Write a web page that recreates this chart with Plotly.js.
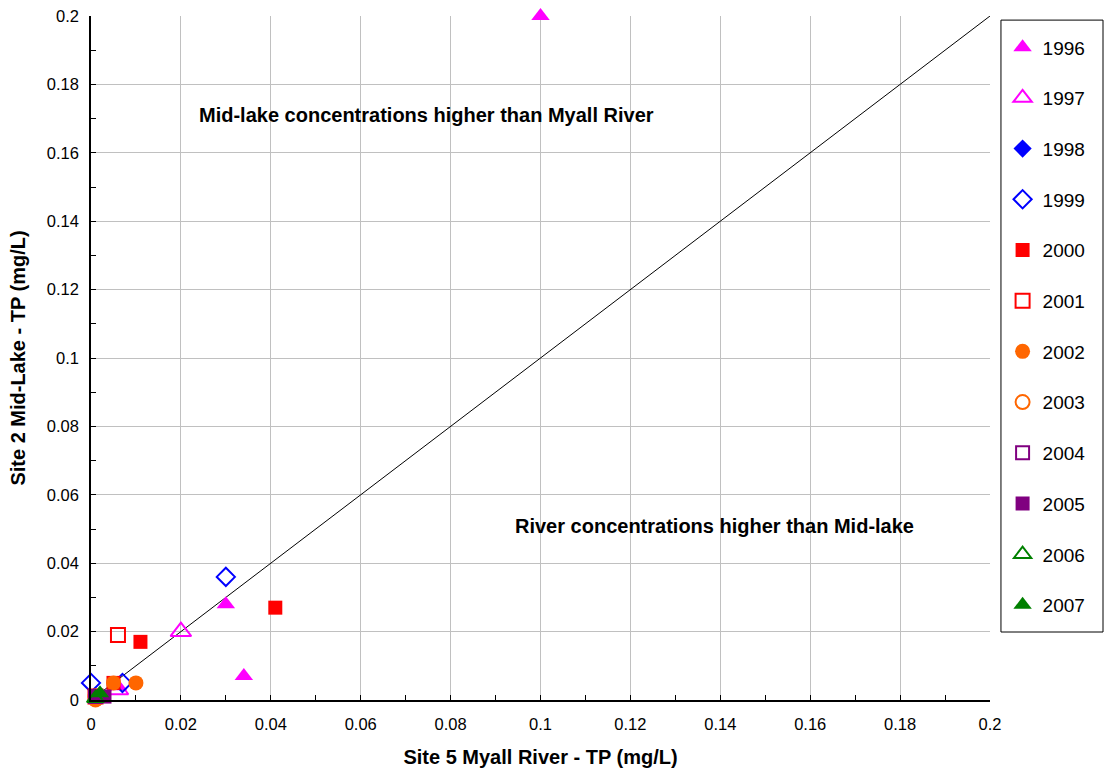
<!DOCTYPE html>
<html><head><meta charset="utf-8">
<script src="https://cdn.plot.ly/plotly-3.0.1.min.js"></script>
<style>body{margin:0;background:#fff}#c{width:1104px;height:771px}</style>
</head><body><div id="c"></div>
<script>
const years = ["1996","1997","1998","1999","2000","2001","2002","2003","2004","2005","2006","2007"];
const x1996 = [0.100, 0.030, 0.034, 0.006];
const y1996 = [0.200, 0.028, 0.007, 0.004];
const x1997 = [0.020, 0.006];
const y1997 = [0.020, 0.003];
const x1998 = [0.002];
const y1998 = [0.001];
const x1999 = [0.030, 0.000, 0.007];
const y1999 = [0.036, 0.005, 0.005];
const x2000 = [0.041, 0.011, 0.005, 0.001];
const y2000 = [0.027, 0.017, 0.005, 0.001];
const x2001 = [0.006, 0.001];
const y2001 = [0.019, 0.001];
const x2002 = [0.005, 0.010, 0.001];
const y2002 = [0.005, 0.005, 0.000];
const x2003 = [0.001];
const y2003 = [0.001];
const x2004 = [0.001];
const y2004 = [0.001];
const x2005 = [0.001, 0.003];
const y2005 = [0.001, 0.001];
const x2006 = [0.001];
const y2006 = [0.0005];
const x2007 = [0.002];
const y2007 = [0.002];
const lineX = [0, 0.2];
const lineY = [0, 0.2];

const MAG='#ff00ff', BLUE='#0000ff', RED='#ff0000', ORG='#ff6600', PUR='#800080', GRN='#008000';
const specs = [
  [x1996,y1996,'triangle-up',MAG,true,16],
  [x1997,y1997,'triangle-up-open',MAG,false,18],
  [x1998,y1998,'diamond',BLUE,true,14],
  [x1999,y1999,'diamond-open',BLUE,false,14],
  [x2000,y2000,'square',RED,true,14],
  [x2001,y2001,'square-open',RED,false,14],
  [x2002,y2002,'circle',ORG,true,15],
  [x2003,y2003,'circle-open',ORG,false,14],
  [x2004,y2004,'square-open',PUR,false,13],
  [x2005,y2005,'square',PUR,true,14],
  [x2006,y2006,'triangle-up-open',GRN,false,15],
  [x2007,y2007,'triangle-up',GRN,true,16]
];
const traces = [{x:lineX,y:lineY,mode:'lines',line:{color:'#000',width:1},showlegend:false,hoverinfo:'skip'}];
specs.forEach((s,i)=>{
  traces.push({x:s[0],y:s[1],mode:'markers',name:years[i],legendgroup:years[i],cliponaxis:false,
    marker:{symbol:s[2],color:s[3],size:s[5],line:{color:s[3],width:s[4]?0:2}}});
});
const layout = {
  width:1104,height:771,
  margin:{l:91,r:114,t:16,b:71},
  paper_bgcolor:'#fff',plot_bgcolor:'#fff',
  font:{family:'Liberation Sans, Arial, sans-serif',color:'#000',size:16},
  xaxis:{range:[0,0.2],dtick:0.02,showgrid:true,gridcolor:'#c0c0c0',gridwidth:1,
    zeroline:false,showline:true,linecolor:'#000',linewidth:1.5,ticks:'inside',ticklen:5,tickcolor:'#000',
    minor:{dtick:0.01,ticks:'inside',ticklen:5,tickcolor:'#000',showgrid:false},
    tickfont:{size:16.5},ticklabelstandoff:8,
    title:{text:'<b>Site 5 Myall River - TP (mg/L)</b>',font:{size:20},standoff:18}},
  yaxis:{range:[0,0.2],dtick:0.02,showgrid:true,gridcolor:'#c0c0c0',gridwidth:1,
    zeroline:false,showline:true,linecolor:'#000',linewidth:1.5,ticks:'inside',ticklen:5,tickcolor:'#000',
    minor:{dtick:0.01,ticks:'inside',ticklen:5,tickcolor:'#000',showgrid:false},
    tickfont:{size:16.5},ticklabelstandoff:7,
    title:{text:'<b>Site 2 Mid-Lake - TP (mg/L)</b>',font:{size:20},standoff:16}},
  legend:{x:1.014,y:0.982,xanchor:'left',yanchor:'top',borderwidth:0,
    font:{size:19},tracegroupgap:23,itemwidth:30,bgcolor:'rgba(0,0,0,0)'},
  shapes:[{type:'rect',xref:'paper',yref:'paper',x0:1.0122,x1:1.1257,y0:0.0994,y1:0.994,
    line:{color:'#000',width:1},fillcolor:'rgba(0,0,0,0)',layer:'below'}],
  annotations:[
    {x:0.0236,y:0.171,xref:'x',yref:'y',text:'<b>Mid-lake concentrations higher than Myall River</b>',showarrow:false,xanchor:'left',font:{size:20}},
    {x:0.0939,y:0.051,xref:'x',yref:'y',text:'<b>River concentrations higher than Mid-lake</b>',showarrow:false,xanchor:'left',font:{size:20}}
  ],
  showlegend:true
};
Plotly.newPlot('c',traces,layout,{displayModeBar:false});
</script></body></html>
